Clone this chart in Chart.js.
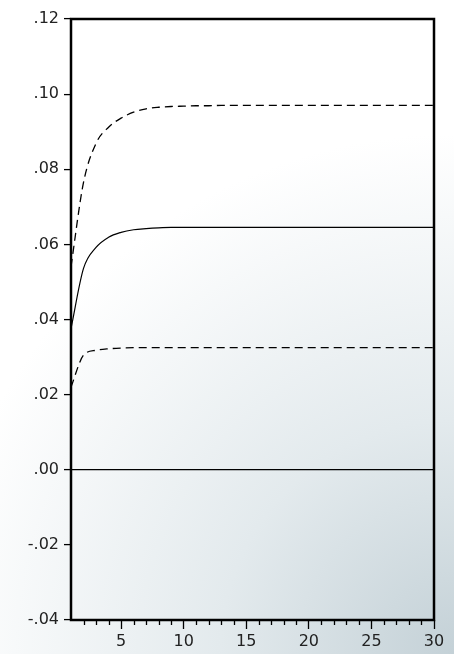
<!DOCTYPE html>
<html>
<head>
<meta charset="utf-8">
<script src="https://cdn.jsdelivr.net/npm/chart.js@4"></script>
<style>
  html, body { margin: 0; padding: 0; background: #fff; }
  canvas { display: block; }
</style>
</head>
<body>
<canvas id="irfChart" width="454" height="654"></canvas>
<script>
const periods = [1, 2, 3, 4, 5, 6, 7, 8, 9, 10, 11, 12, 13, 14, 15,
                 16, 17, 18, 19, 20, 21, 22, 23, 24, 25, 26, 27, 28, 29, 30];

const response = [0.0376, 0.0536, 0.0592, 0.0619, 0.0632, 0.0639, 0.0642, 0.0644, 0.0645, 0.0645,
                  0.0645, 0.0645, 0.0645, 0.0645, 0.0645, 0.0645, 0.0645, 0.0645, 0.0645, 0.0645,
                  0.0645, 0.0645, 0.0645, 0.0645, 0.0645, 0.0645, 0.0645, 0.0645, 0.0645, 0.0645];

const upperBand = [0.0541, 0.0765, 0.0869, 0.0912, 0.0936, 0.0952, 0.0961, 0.0965, 0.0967, 0.0968,
                   0.0969, 0.0969, 0.0970, 0.0970, 0.0970, 0.0970, 0.0970, 0.0970, 0.0970, 0.0970,
                   0.0970, 0.0970, 0.0970, 0.0970, 0.0970, 0.0970, 0.0970, 0.0970, 0.0970, 0.0970];

const lowerBand = [0.0220, 0.0305, 0.0318, 0.0322, 0.0324, 0.0325, 0.0325, 0.0325, 0.0325, 0.0325,
                   0.0325, 0.0325, 0.0325, 0.0325, 0.0325, 0.0325, 0.0325, 0.0325, 0.0325, 0.0325,
                   0.0325, 0.0325, 0.0325, 0.0325, 0.0325, 0.0325, 0.0325, 0.0325, 0.0325, 0.0325];

const xMajorLabels = ['5', '10', '15', '20', '25', '30'];
const yTickLabels = ['-.04', '-.02', '.00', '.02', '.04', '.06', '.08', '.10', '.12'];

const fontSpec = { family: 'DejaVu Sans', size: 16 };

// page background + frame + minor x ticks
const decor = {
  id: 'decor',
  beforeDraw(chart) {
    const c = chart.ctx;
    const g = c.createRadialGradient(454, 654, 0, 454, 654, 520);
    g.addColorStop(0, '#c4d1d7');
    g.addColorStop(0.45, '#e3eaed');
    g.addColorStop(1, '#ffffff');
    c.save();
    c.fillStyle = g;
    c.fillRect(0, 0, chart.width, chart.height);
    c.restore();
  },
  afterDraw(chart) {
    const c = chart.ctx;
    const a = chart.chartArea;
    const x = chart.scales.x;
    c.save();
    c.strokeStyle = '#000';
    c.lineWidth = 1.3;
    c.beginPath();
    for (let i = 1; i < periods.length; i++) {
      if (xMajorLabels.includes(String(periods[i]))) continue;
      const px = Math.round(x.getPixelForValue(i)) + 0.5;
      c.moveTo(px, a.bottom);
      c.lineTo(px, a.bottom + 5);
    }
    c.stroke();
    c.lineWidth = 2.5;
    c.strokeRect(a.left, a.top, a.right - a.left, a.bottom - a.top);
    c.restore();
  }
};

const lineStyle = { borderColor: '#000', pointRadius: 0, cubicInterpolationMode: 'monotone' };

const ctx = document.getElementById('irfChart').getContext('2d');
new Chart(ctx, {
  type: 'line',
  data: {
    labels: periods,
    datasets: [
      { ...lineStyle, label: 'Response', data: response, borderWidth: 1.2 },
      { ...lineStyle, label: 'Upper', data: upperBand, borderWidth: 1.3, borderDash: [8, 5] },
      { ...lineStyle, label: 'Lower', data: lowerBand, borderWidth: 1.3, borderDash: [8, 5] }
    ]
  },
  options: {
    responsive: false,
    animation: false,
    layout: { padding: { top: 19, right: 20, left: 0, bottom: 0 } },
    plugins: { legend: { display: false }, tooltip: { enabled: false } },
    scales: {
      x: {
        offset: false,
        border: { display: false },
        grid: {
          drawOnChartArea: false,
          tickLength: 9,
          tickWidth: 1.3,
          tickColor: c => xMajorLabels.includes(String(periods[c.index])) ? '#000' : 'rgba(0,0,0,0)'
        },
        ticks: {
          autoSkip: false,
          maxRotation: 0,
          padding: 3,
          color: '#222',
          font: fontSpec,
          callback: (v, i) => xMajorLabels.includes(String(periods[i])) ? String(periods[i]) : ''
        },
        afterFit: s => { s.height = 34; }
      },
      y: {
        min: -0.04,
        max: 0.12,
        border: { display: false },
        grid: {
          tickLength: 7,
          tickWidth: 1.3,
          tickColor: '#000',
          lineWidth: 1.2,
          color: c => (c.tick && Math.abs(c.tick.value) < 1e-9) ? '#000' : 'rgba(0,0,0,0)'
        },
        ticks: {
          stepSize: 0.02,
          padding: 5,
          color: '#222',
          font: fontSpec,
          callback: (v, i) => yTickLabels[i]
        },
        afterFit: s => { s.width = 71; }
      }
    }
  },
  plugins: [decor]
});
</script>
</body>
</html>
